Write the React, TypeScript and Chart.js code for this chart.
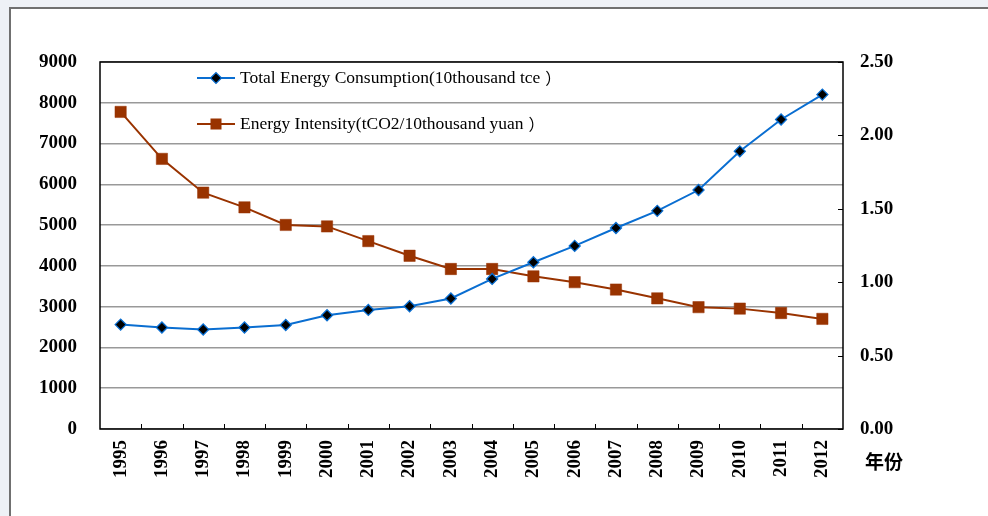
import React, { useEffect, useRef } from "react";
import { Chart, registerables } from "chart.js";

Chart.register(...registerables);

const years = ["1995", "1996", "1997", "1998", "1999", "2000", "2001", "2002", "2003", "2004", "2005", "2006", "2007", "2008", "2009", "2010", "2011", "2012"];
const consumption = [2560, 2490, 2440, 2490, 2550, 2790, 2920, 3010, 3200, 3680, 4090, 4490, 4930, 5350, 5860, 6810, 7590, 8200];
const intensity = [2.16, 1.84, 1.61, 1.51, 1.39, 1.38, 1.28, 1.18, 1.09, 1.09, 1.04, 1.0, 0.95, 0.89, 0.83, 0.82, 0.79, 0.75];
const legendLabels = ["Total Energy Consumption(10thousand tce）", "Energy Intensity(tCO2/10thousand yuan）"];
const xAxisTitle = "年份";

const BLUE = "#0a6ed1";
const BROWN = "#993300";
const SERIF = '"Liberation Serif", "Times New Roman", serif';
const CJK = '"Noto Sans CJK SC", sans-serif';

function drawLabel(ctx: any, text: string, x: number, y: number) {
  let main = text;
  let tail = "";
  if (text.endsWith("）")) {
    main = text.slice(0, -1);
    tail = "）";
  }
  ctx.font = "17.5px " + SERIF;
  ctx.fillText(main, x, y);
  const w = ctx.measureText(main).width;
  if (tail) {
    ctx.font = "16px " + CJK;
    ctx.fillText(tail, x + w + 5, y);
  }
}

const decor = {
  id: "decor",
  beforeDatasetsDraw(chart: any) {
    const { ctx, chartArea: a, scales } = chart;
    ctx.save();
    ctx.strokeStyle = "#000";
    ctx.lineWidth = 1.5;
    ctx.strokeRect(a.left, a.top, a.right - a.left, a.bottom - a.top);
    ctx.lineWidth = 1;
    const x = scales.x;
    for (let i = 1; i < years.length; i++) {
      const px = Math.round((x.getPixelForValue(i - 1) + x.getPixelForValue(i)) / 2) + 0.5;
      ctx.beginPath();
      ctx.moveTo(px, a.bottom);
      ctx.lineTo(px, a.bottom - 5);
      ctx.stroke();
    }
    const yr = scales.y1;
    yr.ticks.forEach((t: any) => {
      const py = Math.round(yr.getPixelForValue(t.value)) + 0.5;
      ctx.beginPath();
      ctx.moveTo(a.right - 5, py);
      ctx.lineTo(a.right, py);
      ctx.stroke();
    });
    ctx.restore();
  },
  afterDraw(chart: any) {
    const { ctx } = chart;
    ctx.save();
    const rows = [78, 124];
    const x0 = 197, x1 = 235, mx = 216;
    ctx.textBaseline = "middle";
    // row 1
    ctx.strokeStyle = BLUE;
    ctx.lineWidth = 2;
    ctx.beginPath();
    ctx.moveTo(x0, rows[0]);
    ctx.lineTo(x1, rows[0]);
    ctx.stroke();
    ctx.beginPath();
    ctx.moveTo(mx - 5.5, rows[0]);
    ctx.lineTo(mx, rows[0] - 5.5);
    ctx.lineTo(mx + 5.5, rows[0]);
    ctx.lineTo(mx, rows[0] + 5.5);
    ctx.closePath();
    ctx.fillStyle = "#000";
    ctx.fill();
    ctx.lineWidth = 1.2;
    ctx.stroke();
    ctx.fillStyle = "#000";
    drawLabel(ctx, legendLabels[0], 240, rows[0]);
    // row 2
    ctx.strokeStyle = BROWN;
    ctx.lineWidth = 2;
    ctx.beginPath();
    ctx.moveTo(x0, rows[1]);
    ctx.lineTo(x1, rows[1]);
    ctx.stroke();
    ctx.fillStyle = BROWN;
    ctx.fillRect(mx - 5.5, rows[1] - 5.5, 11, 11);
    ctx.fillStyle = "#000";
    drawLabel(ctx, legendLabels[1], 240, rows[1]);
    // axis title
    ctx.font = "bold 19px " + CJK;
    ctx.textAlign = "left";
    ctx.fillText(xAxisTitle, 865, 462);
    ctx.restore();
  },
};

export default function App() {
  const ref = useRef<HTMLCanvasElement | null>(null);

  useEffect(() => {
    if (!ref.current) return;
    const tickFont = { family: SERIF, size: 19, weight: "bold" as const };
    const chart = new Chart(ref.current, {
      type: "line",
      data: {
        labels: years,
        datasets: [
          {
            label: legendLabels[0],
            data: consumption,
            yAxisID: "y",
            borderColor: BLUE,
            borderWidth: 2,
            backgroundColor: "#000",
            pointStyle: "rectRot",
            pointRadius: 5.5,
            pointBorderColor: BLUE,
            pointBorderWidth: 1.3,
            pointBackgroundColor: "#000",
            tension: 0,
          },
          {
            label: legendLabels[1],
            data: intensity,
            yAxisID: "y1",
            borderColor: BROWN,
            borderWidth: 2,
            backgroundColor: BROWN,
            pointStyle: "rect",
            pointRadius: 8,
            pointBorderColor: BROWN,
            pointBorderWidth: 0.5,
            pointBackgroundColor: BROWN,
            tension: 0,
          },
        ],
      },
      options: {
        animation: false,
        responsive: false,
        maintainAspectRatio: false,
        layout: { padding: { top: 62, left: 0, right: 0, bottom: 0 } },
        plugins: { legend: { display: false }, tooltip: { enabled: false } },
        scales: {
          x: {
            offset: true,
            grid: { display: false, drawTicks: false },
            border: { display: false },
            ticks: {
              autoSkip: false,
              maxRotation: 90,
              minRotation: 90,
              padding: 11,
              color: "#000",
              font: tickFont,
            },
            afterFit: (s: any) => {
              s.height = 87;
            },
          },
          y: {
            position: "left",
            min: 0,
            max: 9000,
            grid: { color: "#999", lineWidth: 1.5, drawTicks: false },
            border: { display: false },
            ticks: {
              stepSize: 1000,
              padding: 23,
              color: "#000",
              font: tickFont,
              callback: (v: any) => String(v),
            },
            afterFit: (s: any) => {
              s.width = 100;
            },
          },
          y1: {
            position: "right",
            min: 0,
            max: 2.5,
            grid: { display: false, drawTicks: false },
            border: { display: false },
            ticks: {
              stepSize: 0.5,
              padding: 17,
              color: "#000",
              font: tickFont,
              callback: (v: any) => Number(v).toFixed(2),
            },
            afterFit: (s: any) => {
              s.width = 145;
            },
          },
        },
      },
      plugins: [decor],
    });
    return () => chart.destroy();
  }, []);

  return (
    <div style={{ position: "fixed", left: 0, top: 0, width: 988, height: 516, background: "#eef1f6", overflow: "hidden" }}>
      <div
        style={{
          position: "absolute",
          left: 9,
          top: 7,
          right: 0,
          bottom: 0,
          background: "#fff",
          borderLeft: "2px solid #707070",
          borderTop: "2px solid #707070",
        }}
      />
      <canvas ref={ref} width={988} height={516} style={{ position: "absolute", left: 0, top: 0, width: 988, height: 516 }} />
    </div>
  );
}
